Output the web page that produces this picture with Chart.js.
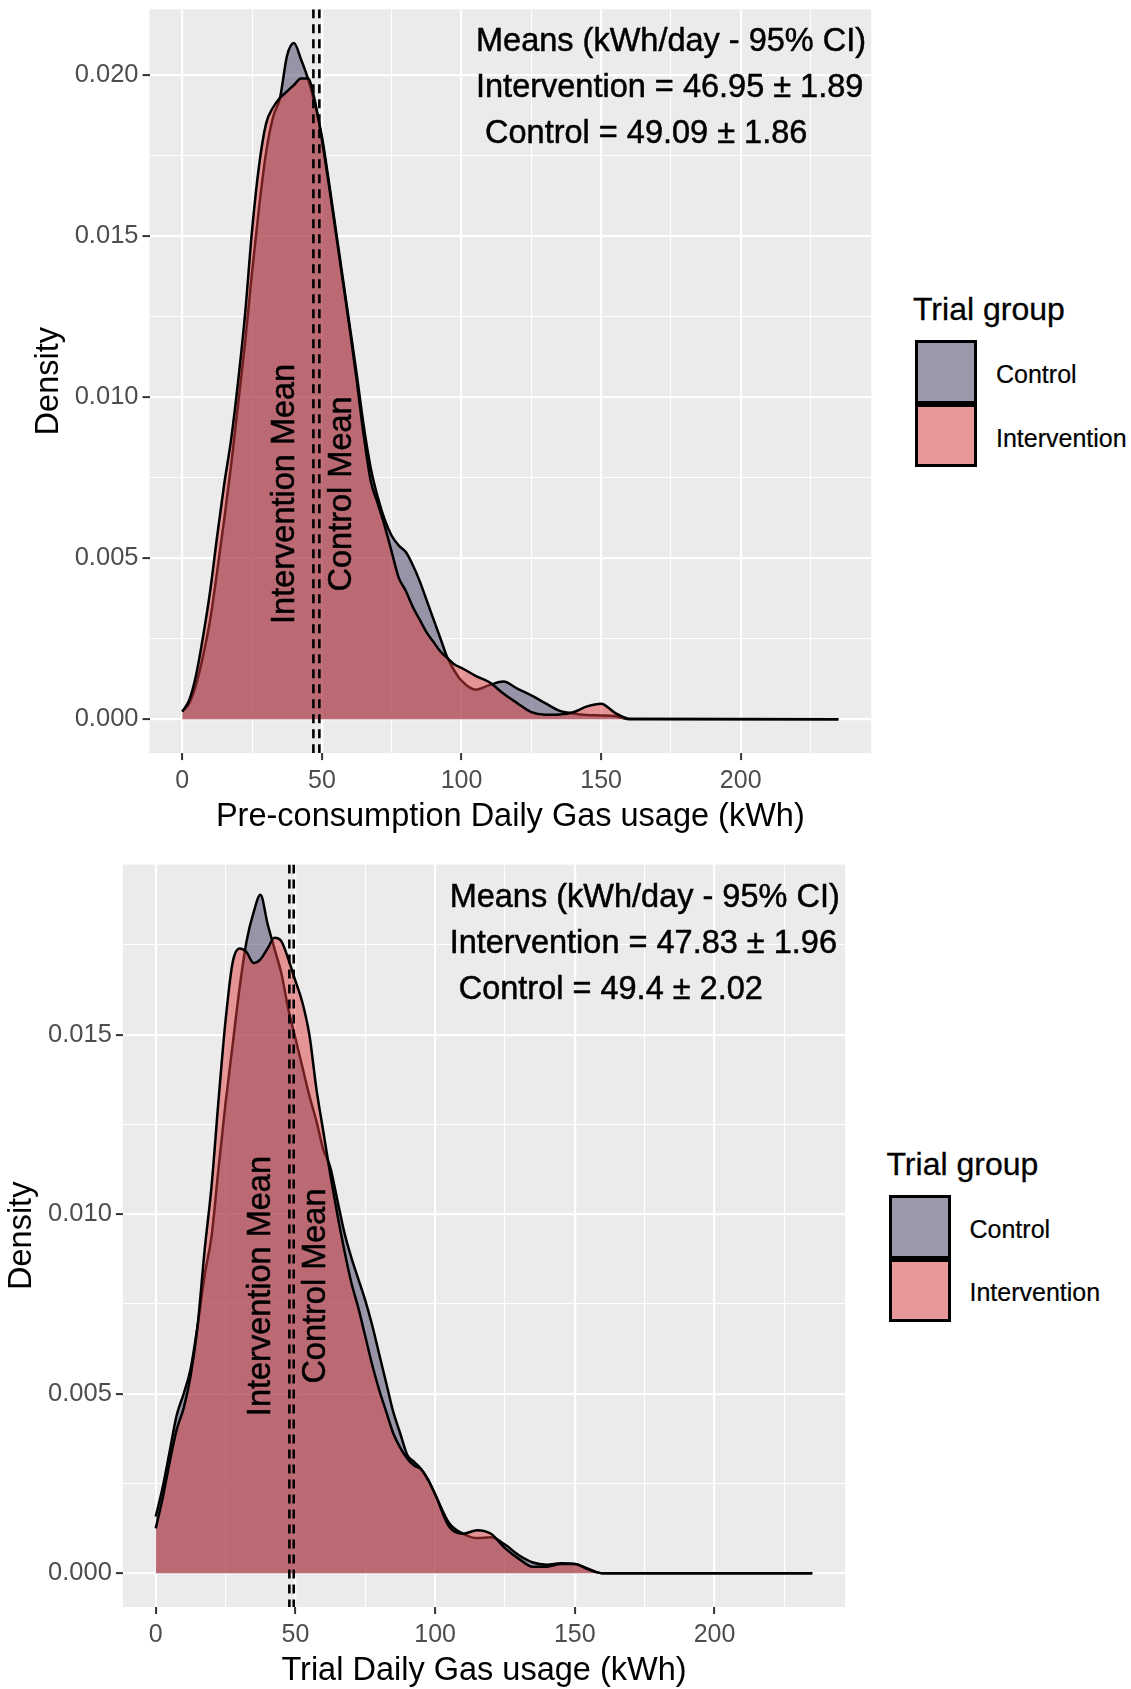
<!DOCTYPE html>
<html><head><meta charset="utf-8">
<script src="https://cdn.jsdelivr.net/npm/chart.js@4/dist/chart.umd.min.js"></script>
<style>
html,body{margin:0;padding:0;background:#fff;}
body{width:1131px;height:1689px;position:relative;overflow:hidden;font-family:"Liberation Sans",Arial,sans-serif;}
canvas{position:absolute;left:0;display:block;}
#c1{top:0;} #c2{top:850px;}
.lg{position:absolute;}
.lg .t{position:absolute;left:-2px;top:-47px;font-size:32px;line-height:32px;white-space:nowrap;color:#000;-webkit-text-stroke:0.3px #000;}
.lg .k{position:absolute;left:0;width:62px;box-sizing:border-box;border:3px solid #000;background:#F2F2F2;}
.lg .k i{position:absolute;left:0;top:0;right:0;bottom:0;}
.lg .l{position:absolute;left:81px;font-size:25px;line-height:25px;white-space:nowrap;color:#000;-webkit-text-stroke:0.2px #000;}
</style></head>
<body>
<canvas id="c1" width="880" height="850"></canvas>
<canvas id="c2" width="880" height="839"></canvas>
<div class="lg" id="lg1" style="left:915px;top:340px;"></div>
<div class="lg" id="lg2" style="left:888.5px;top:1194.5px;"></div>
<script>
// ---------------- data ----------------
const groups = ['Control', 'Intervention'];
const legendTitle = 'Trial group';
const xGrid = [0,2.5,5,7.5,10,12.5,15,17.5,20,22.5,25,27.5,30,32.5,35,37.5,40,42.5,45,47.5,50,52.5,55,57.5,60,62.5,65,67.5,70,72.5,75,77.5,80,82.5,85,87.5,90,92.5,95,97.5,100,105,110,115,120,125,130,135,140,145,150,155,160,235];

// Pre-consumption period densities
const preControl = [0.00024,0.0005,0.0011,0.0020,0.0031,0.0046,0.0062,0.0079,0.0098,0.0117,0.0139,0.0159,0.0176,0.0187,0.0193,0.0206,0.0210,0.0205,0.0199,0.0191,0.0181,0.0167,0.0152,0.0137,0.0122,0.0107,0.0091,0.0078,0.0069,0.0062,0.0057,0.0054,0.0052,0.0048,0.0043,0.0037,0.0031,0.0025,0.0019,0.0015,0.0012,0.00092,0.00106,0.00117,0.00095,0.00074,0.0005,0.00027,0.00018,0.00013,0.00012,0.0001,0,0];
const preIntervention = [0.00024,0.0006,0.0014,0.0026,0.0040,0.0057,0.0073,0.0087,0.0105,0.0126,0.0152,0.0172,0.0185,0.0190,0.0193,0.0195,0.0197,0.0199,0.0199,0.0192,0.0180,0.0166,0.0151,0.0136,0.0121,0.0105,0.0088,0.0074,0.0067,0.0060,0.0052,0.0044,0.0040,0.0035,0.0031,0.0027,0.0024,0.0021,0.0019,0.0017,0.0016,0.00135,0.00115,0.0008,0.0005,0.00022,0.00014,0.00015,0.00022,0.0004,0.00048,0.0002,0.00002,0];

// Trial period densities
const trialControl = [0.00158,0.0024,0.0034,0.0044,0.0050,0.0057,0.0069,0.0083,0.0094,0.0113,0.0131,0.0147,0.0163,0.0176,0.0184,0.0189,0.0181,0.0174,0.0167,0.0157,0.0149,0.0141,0.0133,0.0126,0.0118,0.0113,0.0104,0.0095,0.0088,0.0082,0.0076,0.0069,0.0061,0.0053,0.0045,0.0039,0.0033,0.0031,0.0029,0.0026,0.0022,0.0014,0.0011,0.00098,0.0010,0.0008,0.0005,0.0003,0.00024,0.00028,0.00026,0.00012,0,0];
const trialIntervention = [0.00125,0.0021,0.0031,0.0040,0.0046,0.0055,0.0069,0.0090,0.0108,0.0132,0.0154,0.0170,0.0174,0.0173,0.0170,0.0171,0.0174,0.0177,0.0176,0.0171,0.0165,0.0159,0.0150,0.0135,0.0123,0.0111,0.0100,0.0090,0.0081,0.0074,0.0066,0.0058,0.0051,0.0045,0.0039,0.0035,0.0032,0.0030,0.0029,0.0026,0.0022,0.0013,0.0011,0.0012,0.0011,0.0007,0.0004,0.00018,0.00018,0.00026,0.00026,0.0001,0,0];

// means [Intervention, Control] and 95% CI half-widths
const preMeans = [46.95, 49.09];
const preCI = [1.89, 1.86];
const trialMeans = [47.83, 49.4];
const trialCI = [1.96, 2.02];
const meanLabels = ['Intervention Mean', 'Control Mean'];
const meanLabelOffsets = [-10, 8];

const xTickStep = 25, xMajorStep = 50;
const yTickStep = 0.0025, yMajorStep = 0.005;

// ---------------- styling ----------------
const FONT = '"Liberation Sans", Arial, sans-serif';
const FILL = { Control: 'rgba(69,61,101,0.5)', Intervention: 'rgba(221,61,61,0.5)' };
const isMul = (v, s) => Math.abs(v / s - Math.round(v / s)) < 1e-6;

const panelBg = {
  id: 'panelBg',
  beforeDraw(chart) {
    const { ctx, chartArea: a } = chart;
    ctx.save();
    ctx.fillStyle = '#EBEBEB';
    ctx.fillRect(a.left, a.top, a.right - a.left, a.bottom - a.top);
    ctx.restore();
  }
};

function makeAnnot(cfg) {
  return {
    id: 'annot',
    afterDatasetsDraw(chart) {
      const { ctx, chartArea: a, scales: { x, y } } = chart;
      ctx.save();
      ctx.beginPath();
      ctx.rect(a.left, a.top, a.right - a.left, a.bottom - a.top);
      ctx.clip();
      // dashed mean lines
      ctx.setLineDash([9, 6]);
      ctx.lineWidth = 2.6;
      ctx.strokeStyle = '#000';
      cfg.means.forEach(m => {
        const px = x.getPixelForValue(m);
        ctx.beginPath(); ctx.moveTo(px, a.top); ctx.lineTo(px, a.bottom); ctx.stroke();
      });
      ctx.setLineDash([]);
      // rotated mean labels
      ctx.fillStyle = '#000';
      ctx.strokeStyle = '#000';
      ctx.lineWidth = 0.5;
      ctx.font = '32.5px ' + FONT;
      ctx.textAlign = 'center';
      ctx.textBaseline = 'middle';
      cfg.means.forEach((m, i) => {
        const px = x.getPixelForValue(m + meanLabelOffsets[i]);
        const py = y.getPixelForValue(cfg.labelY);
        ctx.save(); ctx.translate(px, py); ctx.rotate(-Math.PI / 2);
        ctx.fillText(meanLabels[i], 0, 0);
        ctx.strokeText(meanLabels[i], 0, 0);
        ctx.restore();
      });
      // text block
      const lines = [
        'Means (kWh/day - 95% CI)',
        'Intervention = ' + cfg.means[0] + ' \u00B1 ' + cfg.ci[0],
        ' Control = ' + cfg.means[1] + ' \u00B1 ' + cfg.ci[1]
      ];
      ctx.textAlign = 'left';
      ctx.textBaseline = 'alphabetic';
      const tx = x.getPixelForValue(cfg.textX);
      lines.forEach((t, i) => {
        ctx.fillText(t, tx, a.top + 42 + 46 * i);
        ctx.strokeText(t, tx, a.top + 42 + 46 * i);
      });
      ctx.restore();
    }
  };
}

function makeChart(cfg) {
  const pts = arr => xGrid.map((xv, i) => ({ x: xv, y: arr[i] }));
  return new Chart(document.getElementById(cfg.canvas), {
    type: 'line',
    data: {
      datasets: [
        { label: groups[1], data: pts(cfg.interv), backgroundColor: FILL.Intervention, borderColor: '#000', borderWidth: 2.5, fill: 'origin', pointRadius: 0, cubicInterpolationMode: 'monotone' },
        { label: groups[0], data: pts(cfg.control), backgroundColor: FILL.Control, borderColor: '#000', borderWidth: 2.5, fill: 'origin', pointRadius: 0, cubicInterpolationMode: 'monotone' }
      ]
    },
    options: {
      responsive: false, animation: false, events: [],
      layout: { padding: cfg.pad },
      plugins: { legend: { display: false }, tooltip: { enabled: false } },
      scales: {
        x: {
          type: 'linear', min: -11.75, max: 246.75,
          border: { display: false },
          grid: {
            color: '#FFFFFF',
            lineWidth: c => (c.tick && isMul(c.tick.value, xMajorStep)) ? 2.2 : 1.1,
            drawTicks: true, tickLength: 7, tickWidth: 2,
            tickColor: c => (c.tick && isMul(c.tick.value, xMajorStep)) ? '#333333' : 'rgba(0,0,0,0)'
          },
          ticks: {
            stepSize: xTickStep, includeBounds: false, autoSkip: false, maxRotation: 0, padding: 6,
            color: '#4D4D4D', font: { family: FONT, size: 25 },
            callback: v => isMul(v, xMajorStep) ? String(v) : ''
          },
          title: { display: true, text: cfg.xTitle, color: '#000', font: { family: FONT, size: 32.5, lineHeight: 1 }, padding: { top: 0, bottom: 0 } },
          afterFit: s => { s.height = cfg.xH; s.paddingLeft = 0; s.paddingRight = 0; }
        },
        y: {
          type: 'linear', min: cfg.yMin, max: cfg.yMax,
          border: { display: false },
          grid: {
            color: '#FFFFFF',
            lineWidth: c => (c.tick && isMul(c.tick.value, yMajorStep)) ? 2.2 : 1.1,
            drawTicks: true, tickLength: 7, tickWidth: 2,
            tickColor: c => (c.tick && isMul(c.tick.value, yMajorStep)) ? '#333333' : 'rgba(0,0,0,0)'
          },
          ticks: {
            stepSize: yTickStep, includeBounds: false, autoSkip: false, padding: 4,
            color: '#4D4D4D', font: { family: FONT, size: 25.5 },
            callback: v => isMul(v, yMajorStep) ? v.toFixed(3) : ''
          },
          title: { display: true, text: 'Density', color: '#000', font: { family: FONT, size: 32.5, lineHeight: 1 }, padding: { top: cfg.yTitlePad, bottom: 0 } },
          afterFit: s => { s.width = cfg.yW; s.paddingTop = 0; s.paddingBottom = 0; }
        }
      }
    },
    plugins: [panelBg, makeAnnot(cfg)]
  });
}

makeChart({
  canvas: 'c1', interv: preIntervention, control: preControl, means: preMeans, ci: preCI,
  xTitle: 'Pre-consumption Daily Gas usage (kWh)', yMin: -0.00105, yMax: 0.02205,
  pad: { top: 9.3, right: 8.8, bottom: 16.4, left: 0 }, yW: 149.5, xH: 80.5, yTitlePad: 32.5,
  labelY: 0.007, textX: 105.2
});
makeChart({
  canvas: 'c2', interv: trialIntervention, control: trialControl, means: trialMeans, ci: trialCI,
  xTitle: 'Trial Daily Gas usage (kWh)', yMin: -0.00094, yMax: 0.01974,
  pad: { top: 14.6, right: 34.9, bottom: 1.3, left: 0 }, yW: 122.9, xH: 80.7, yTitlePad: 5.5,
  labelY: 0.008, textX: 105.2
});

// ---------------- legends ----------------
function makeLegend(id) {
  const el = document.getElementById(id);
  const t = document.createElement('div'); t.className = 't'; t.textContent = legendTitle; el.appendChild(t);
  const tops = [0, 64], heights = [64, 63], labTops = [22, 85.5];
  groups.forEach((g, i) => {
    const k = document.createElement('div'); k.className = 'k';
    k.style.top = tops[i] + 'px'; k.style.height = heights[i] + 'px';
    const f = document.createElement('i'); f.style.background = FILL[g]; k.appendChild(f);
    el.appendChild(k);
    const l = document.createElement('div'); l.className = 'l'; l.textContent = g; l.style.top = labTops[i] + 'px';
    el.appendChild(l);
  });
}
makeLegend('lg1');
makeLegend('lg2');
</script>
</body></html>
